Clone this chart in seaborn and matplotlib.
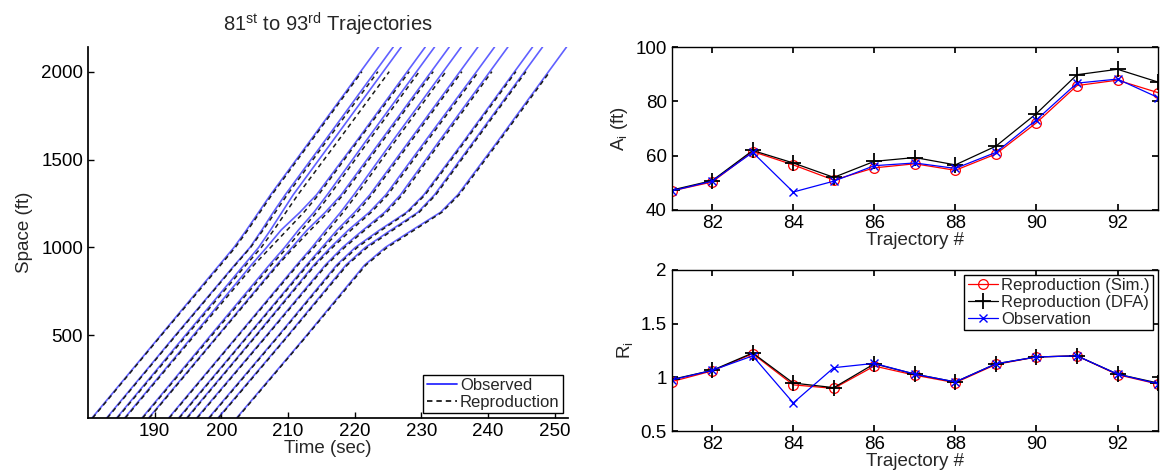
import numpy as np
import pandas as pd
import matplotlib
matplotlib.use("Agg")
import matplotlib.pyplot as plt
import seaborn as sns
from matplotlib.lines import Line2D
from matplotlib.ticker import FormatStrFormatter

# ---------------- data ----------------
traj_ids = list(range(81, 94))

# space levels (ft) at which trajectory times were read
space_obs = [30, 500, 900, 1000, 1100, 1200, 1300, 1600, 2000, 2140]
space_rep = [30, 500, 900, 1000, 1100, 1200, 1300, 1600, 2000]

time_obs_81 = [180.6, 190.9, 199.7, 201.9, 203.8, 205.6, 207.4, 213.2, 220.9, 223.6]
time_obs_82 = [182.8, 193.1, 202.0, 204.3, 206.1, 207.8, 209.6, 215.4, 223.1, 225.8]
time_obs_83 = [184.3, 194.6, 203.4, 205.6, 207.4, 209.1, 210.8, 216.6, 224.3, 227.0]
time_obs_84 = [185.5, 195.8, 204.5, 206.8, 209.0, 211.8, 214.3, 220.2, 227.9, 230.6]
time_obs_85 = [188.1, 198.4, 207.2, 209.5, 211.6, 213.9, 215.9, 221.6, 229.3, 232.0]
time_obs_86 = [189.1, 199.5, 208.3, 210.6, 212.9, 215.6, 218.0, 223.8, 231.5, 234.2]
time_obs_87 = [192.1, 202.5, 211.3, 213.6, 215.7, 217.9, 219.9, 225.6, 233.3, 236.0]
time_obs_88 = [193.6, 204.0, 212.8, 215.1, 217.4, 220.0, 222.3, 228.1, 235.8, 238.5]
time_obs_89 = [194.8, 205.2, 213.9, 216.4, 219.1, 222.2, 224.7, 230.5, 238.3, 241.0]
time_obs_90 = [196.3, 206.8, 215.6, 218.2, 221.3, 224.5, 226.9, 232.6, 240.3, 243.0]
time_obs_91 = [198.1, 208.6, 217.3, 220.1, 223.8, 227.8, 230.4, 236.3, 244.0, 246.7]
time_obs_92 = [199.5, 210.0, 218.7, 221.6, 225.5, 229.5, 232.0, 237.8, 245.5, 248.2]
time_obs_93 = [202.3, 212.8, 221.5, 224.6, 228.7, 232.9, 235.5, 241.4, 249.1, 251.8]

time_rep_81 = [180.7, 191.0, 199.9, 202.1, 204.0, 205.8, 207.6, 213.4, 221.1]
time_rep_82 = [182.9, 193.2, 202.1, 204.4, 206.3, 208.1, 209.9, 215.7, 223.5]
time_rep_83 = [184.4, 194.8, 203.7, 206.0, 207.9, 209.7, 211.5, 217.4, 225.2]
time_rep_84 = [185.6, 196.0, 204.9, 207.4, 209.9, 212.4, 214.6, 220.4, 228.2]
time_rep_85 = [188.2, 198.6, 207.5, 209.9, 212.1, 214.3, 216.3, 222.0, 229.7]
time_rep_86 = [189.2, 199.6, 208.5, 210.9, 213.4, 216.0, 218.3, 224.1, 231.8]
time_rep_87 = [192.2, 202.6, 211.5, 213.9, 216.1, 218.3, 220.3, 226.0, 233.7]
time_rep_88 = [193.7, 204.1, 213.0, 215.4, 217.8, 220.4, 222.6, 228.4, 236.1]
time_rep_89 = [194.9, 205.3, 214.1, 216.7, 219.5, 222.5, 225.0, 230.8, 238.6]
time_rep_90 = [196.4, 206.9, 215.8, 218.5, 221.6, 224.8, 227.2, 232.9, 240.6]
time_rep_91 = [198.2, 208.7, 217.5, 220.4, 224.1, 228.0, 230.6, 236.5, 244.2]
time_rep_92 = [199.6, 210.1, 218.9, 221.9, 225.8, 229.7, 232.2, 238.0, 245.7]
time_rep_93 = [202.4, 212.9, 221.7, 224.9, 229.0, 233.1, 235.7, 241.6, 249.3]

time_obs = [time_obs_81, time_obs_82, time_obs_83, time_obs_84, time_obs_85,
            time_obs_86, time_obs_87, time_obs_88, time_obs_89, time_obs_90,
            time_obs_91, time_obs_92, time_obs_93]
time_rep = [time_rep_81, time_rep_82, time_rep_83, time_rep_84, time_rep_85,
            time_rep_86, time_rep_87, time_rep_88, time_rep_89, time_rep_90,
            time_rep_91, time_rep_92, time_rep_93]

# A_i (ft)
A_sim = [47, 50.3, 61.5, 56.6, 51.0, 55.5, 57.0, 54.6, 60.6, 72.1, 85.8, 87.8, 83.2]
A_dfa = [47.3, 50.8, 61.9, 57.3, 52.0, 57.9, 59.3, 56.6, 63.5, 75.5, 89.8, 91.8, 87.1]
A_obs = [47.0, 50.6, 61.2, 46.6, 50.6, 56.3, 57.3, 55.3, 61.2, 73.2, 86.7, 88.2, 81.4]

# R_i
R_sim = [0.96, 1.06, 1.22, 0.93, 0.897, 1.105, 1.02, 0.95, 1.12, 1.19, 1.20, 1.025, 0.937]
R_dfa = [0.98, 1.065, 1.227, 0.947, 0.904, 1.126, 1.03, 0.957, 1.126, 1.19, 1.20, 1.03, 0.947]
R_obs = [0.975, 1.065, 1.20, 0.762, 1.09, 1.13, 1.03, 0.957, 1.126, 1.19, 1.20, 1.03, 0.94]

# ---------------- style ----------------
sns.set_theme(style="ticks")
plt.rcParams["font.family"] = ["Liberation Sans", "DejaVu Sans"]
plt.rcParams["mathtext.fontset"] = "custom"
plt.rcParams["mathtext.rm"] = "Liberation Sans"
plt.rcParams["mathtext.it"] = "Liberation Sans:italic"
plt.rcParams["mathtext.bf"] = "Liberation Sans:bold"

TICK_FS = 13.5
LABEL_FS = 13.5
TITLE_FS = 14.5
LEG_FS = 12
OBS_BLUE = "#2b2bff"

fig = plt.figure(figsize=(11.62, 4.75), dpi=100)
axL = fig.add_axes([0.0757, 0.12, 0.413, 0.781])
axT = fig.add_axes([0.578, 0.558, 0.4186, 0.343])
axB = fig.add_axes([0.578, 0.0926, 0.4186, 0.339])

# ---------------- left: trajectories ----------------
rows = []
for tid, tl in zip(traj_ids, time_obs):
    for s, t in zip(space_obs, tl):
        rows.append(dict(traj=tid, time=t, space=s, kind="Observed"))
df_obs = pd.DataFrame(rows)
rows = []
for tid, tl in zip(traj_ids, time_rep):
    for s, t in zip(space_rep, tl):
        rows.append(dict(traj=tid, time=t, space=s, kind="Reproduction"))
df_rep = pd.DataFrame(rows)

sns.lineplot(data=df_obs, x="time", y="space", units="traj", estimator=None,
             sort=False, color=OBS_BLUE, lw=1.2, alpha=0.75, legend=False, ax=axL)
sns.lineplot(data=df_rep, x="time", y="space", units="traj", estimator=None,
             sort=False, color="#1a1a1a", lw=1.1, legend=False, ax=axL)
for ln in axL.get_lines()[len(traj_ids):]:
    ln.set_linestyle((0, (3.0, 2.4)))

axL.set_xlim(180, 252)
axL.set_ylim(30, 2140)
axL.set_xticks([190, 200, 210, 220, 230, 240, 250])
axL.set_yticks([500, 1000, 1500, 2000])
axL.spines["top"].set_visible(False)
axL.spines["right"].set_visible(False)
axL.tick_params(direction="in", length=4, labelsize=TICK_FS, width=1, colors="black")
axL.set_xlabel("Time (sec)", fontsize=LABEL_FS, labelpad=0)
axL.set_ylabel("Space (ft)", fontsize=LABEL_FS, labelpad=6)
axL.set_title(r"81$^{\mathrm{st}}$ to 93$^{\mathrm{rd}}$ Trajectories", fontsize=TITLE_FS, pad=11)
for sp in axL.spines.values():
    sp.set_color("black")

hL = [Line2D([], [], color=OBS_BLUE, lw=1.3),
      Line2D([], [], color="#1a1a1a", lw=1.3, ls=(0, (3.0, 2.2)))]
legL = axL.legend(hL, ["Observed", "Reproduction"], loc="lower right", fontsize=LEG_FS,
                  frameon=True, fancybox=False, framealpha=1, edgecolor="black",
                  handlelength=1.8, handletextpad=0.2, borderpad=0.2,
                  labelspacing=0.1, borderaxespad=0.3)
legL.get_frame().set_linewidth(1.0)

# ---------------- right plots ----------------
def draw(ax, sim, dfa, obs):
    sns.lineplot(x=traj_ids, y=sim, color="red", lw=0.9, marker="o", markersize=7,
                 markerfacecolor="none", markeredgecolor="red", markeredgewidth=0.9,
                 label="Reproduction (Sim.)", ax=ax)
    sns.lineplot(x=traj_ids, y=dfa, color="black", lw=0.9, marker="+", markersize=12,
                 markeredgecolor="black", markeredgewidth=1.3,
                 label="Reproduction (DFA)", ax=ax)
    sns.lineplot(x=traj_ids, y=obs, color="blue", lw=0.9, marker="x", markersize=6,
                 markeredgecolor="blue", markeredgewidth=1.0,
                 label="Observation", ax=ax)
    ax.set_xlim(81, 93)
    ax.set_xticks([82, 84, 86, 88, 90, 92])
    ax.tick_params(direction="in", length=4, labelsize=TICK_FS, top=True, right=True,
                   colors="black")
    for sp in ax.spines.values():
        sp.set_color("black")
        sp.set_linewidth(1.0)
    ax.set_xlabel("Trajectory #", fontsize=LABEL_FS, labelpad=0)

draw(axT, A_sim, A_dfa, A_obs)
axT.set_ylim(40, 100)
axT.set_yticks([40, 60, 80, 100])
axT.set_ylabel(r"A$_{\mathrm{i}}$ (ft)", fontsize=LABEL_FS, labelpad=4)
axT.get_legend().remove()

draw(axB, R_sim, R_dfa, R_obs)
axB.set_ylim(0.5, 2)
axB.set_yticks([0.5, 1, 1.5, 2])
axB.yaxis.set_major_formatter(FormatStrFormatter("%g"))
axB.set_ylabel(r"R$_{\mathrm{i}}$", fontsize=LABEL_FS, labelpad=4)
legB = axB.legend(loc="upper right", fontsize=LEG_FS, frameon=True, fancybox=False,
                  framealpha=1, edgecolor="black", handlelength=1.8, handletextpad=0.2,
                  borderpad=0.2, labelspacing=0.1, borderaxespad=0.3)
legB.get_frame().set_linewidth(1.0)

fig.savefig("out.png", dpi=100)
